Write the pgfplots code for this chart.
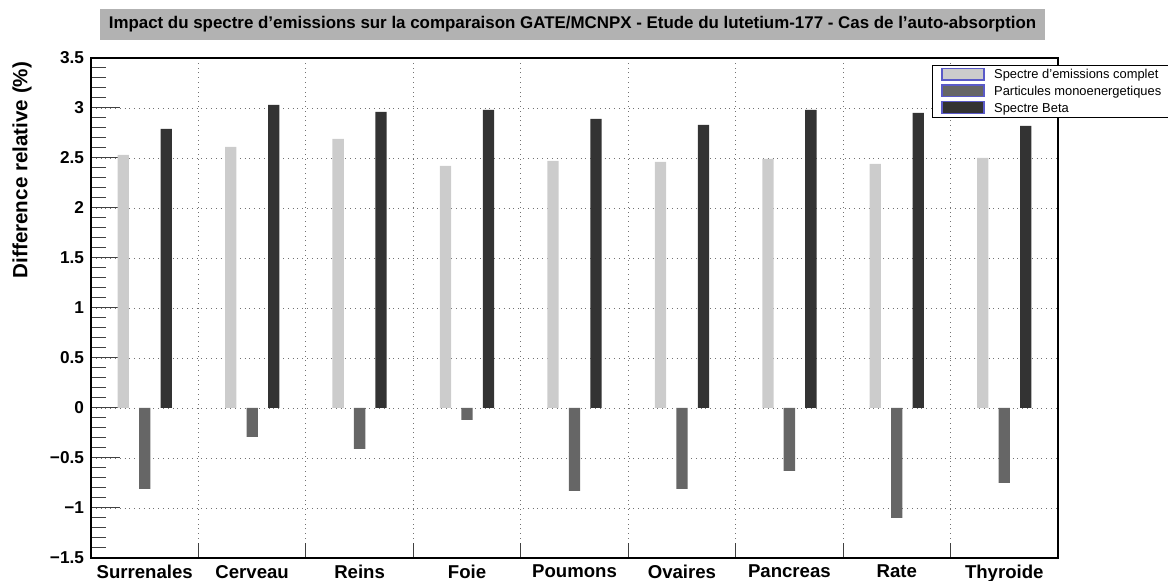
\documentclass[border=0pt]{standalone}
\usepackage{fontspec}
\setmainfont{Liberation Sans}
\usepackage{pgfplots}
\pgfplotsset{compat=1.18}
\definecolor{legblue}{RGB}{90,90,200}
\definecolor{titlegray}{RGB}{178,178,178}
\definecolor{clair}{RGB}{204,204,204}
\definecolor{moyen}{RGB}{102,102,102}
\definecolor{fonce}{RGB}{51,51,51}
\begin{document}
\begin{tikzpicture}
\useasboundingbox (0,0) rectangle (584pt,290.5pt);
\begin{axis}[
  at={(45.5pt,11.5pt)}, anchor=south west,
  scale only axis, width=483.5pt, height=250pt,
  xmin=0, xmax=9, ymin=-1.5, ymax=3.5,
  axis line style={black, line width=0.6pt},
  tick pos=left,
  % categories au centre des bins, ticks aux bords
  xtick={0.5,1.5,...,8.5},
  xticklabels={Surrenales,Cerveau,Reins,Foie,Poumons,Ovaires,Pancreas,Rate,Thyroide},
  minor xtick={1,2,...,8},
  major x tick style={draw=none},
  ytick={-1.5,-1,...,3.5},
  yticklabels={−1.5,−1,−0.5,0,0.5,1,1.5,2,2.5,3,3.5},
  minor y tick num=4,
  major tick length=14.5pt, minor tick length=7.5pt,
  tick style={black!75, line width=0.5pt},
  ymajorgrids, xminorgrids,
  major grid style={dotted, black!55},
  minor grid style={dotted, black!55},
  x tick label style={font=\bfseries\fontsize{9.3}{11}\selectfont},
  y tick label style={font=\bfseries\fontsize{8.6}{10}\selectfont},
  ylabel={Difference relative (\%)},
  ylabel style={at={(axis description cs:-0.0714,0.993)}, anchor=east, inner sep=0pt,
    font=\bfseries\fontsize{10.3}{12}\selectfont},
  title={Impact du spectre d'emissions sur la comparaison GATE/MCNPX - Etude du lutetium-177 - Cas de l'auto-absorption},
  every axis title shift=0pt,
  title style={at={(axis description cs:0.498,1.067)}, anchor=center, fill=titlegray,
    minimum width=472.5pt, minimum height=15.5pt, inner sep=0pt,
    font=\bfseries\fontsize{8.45}{10}\selectfont},
  legend style={at={(rel axis cs:0.8697,0.986)}, anchor=north west,
    draw=black, line width=0.4pt, fill=white,
    inner xsep=4.5pt, inner ysep=1.1pt, row sep=1.3pt,
    font=\fontsize{6.45}{7}\selectfont,
    nodes={inner sep=0pt, text height=5.0pt, text depth=1.4pt},
    /tikz/every odd column/.append style={column sep=4.8pt}},
  legend cell align=left,
]
% Spectre d'emissions complet
\addplot[ybar, bar width=0.105, bar shift=0pt, fill=clair, draw=none,
  legend image code/.code={\draw[fill=clair, draw=legblue, line width=0.6pt] (0pt,-2.3pt) rectangle (21pt,3.6pt);}]
  coordinates {(0.3,2.53) (1.3,2.61) (2.3,2.69) (3.3,2.42) (4.3,2.47) (5.3,2.46) (6.3,2.49) (7.3,2.44) (8.3,2.50)};
% Particules monoenergetiques
\addplot[ybar, bar width=0.105, bar shift=0pt, fill=moyen, draw=none,
  legend image code/.code={\draw[fill=moyen, draw=legblue, line width=0.6pt] (0pt,-2.3pt) rectangle (21pt,3.6pt);}]
  coordinates {(0.5,-0.81) (1.5,-0.29) (2.5,-0.41) (3.5,-0.12) (4.5,-0.83) (5.5,-0.81) (6.5,-0.63) (7.5,-1.10) (8.5,-0.75)};
% Spectre Beta
\addplot[ybar, bar width=0.105, bar shift=0pt, fill=fonce, draw=none,
  legend image code/.code={\draw[fill=fonce, draw=legblue, line width=0.6pt] (0pt,-2.3pt) rectangle (21pt,3.6pt);}]
  coordinates {(0.7,2.79) (1.7,3.03) (2.7,2.96) (3.7,2.98) (4.7,2.89) (5.7,2.83) (6.7,2.98) (7.7,2.95) (8.7,2.82)};
\legend{Spectre d'emissions complet, Particules monoenergetiques, Spectre Beta}
\end{axis}
\end{tikzpicture}
\end{document}
